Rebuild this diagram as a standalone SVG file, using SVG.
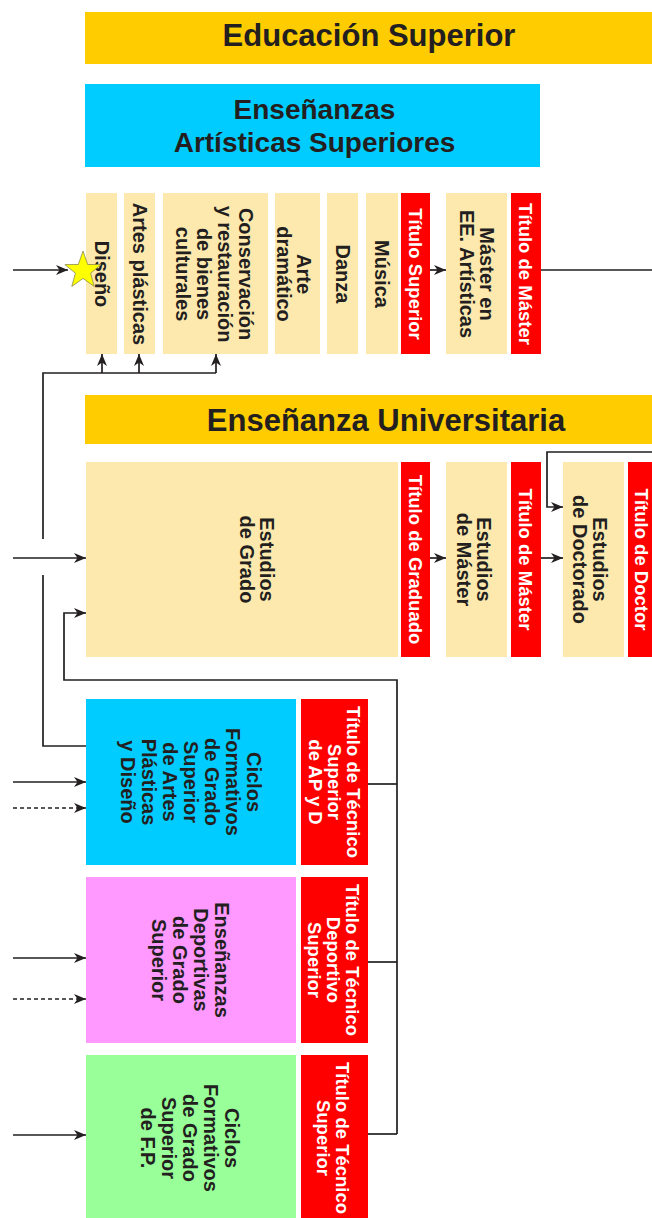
<svg xmlns="http://www.w3.org/2000/svg" width="652" height="1218" viewBox="0 0 652 1218">
<defs>
<marker id="ah" markerUnits="userSpaceOnUse" markerWidth="14" markerHeight="12" refX="12" refY="6" orient="auto">
<path d="M0,1 L12,6 L0,11 L3.5,6 Z" fill="#231f20"/>
</marker>
<style>
.bar{fill:#ffcc00}
.beige{fill:#fde9ae}
.red{fill:#ff0000}
.cyan{fill:#00ccff}
.pink{fill:#ff99ff}
.green{fill:#99ff99}
text{font-family:"Liberation Sans",Arial,sans-serif;font-weight:bold;text-anchor:middle}
.h{font-size:31px;fill:#231f20}
.h2{font-size:28px;fill:#231f20}
.t{font-size:20px;fill:#231f20}
.w{font-size:18.5px;fill:#ffffff}
.ln{fill:none;stroke:#231f20;stroke-width:1.7}
.ar{fill:none;stroke:#231f20;stroke-width:1.7;marker-end:url(#ah)}
.dash{stroke-dasharray:4,3}
</style>
</defs>
<rect width="652" height="1218" fill="#ffffff"/>

<g id="educacion-superior">
<rect class="bar" x="85" y="12" width="570" height="52"/>
<text class="h" x="369" y="46">Educación Superior</text>
</g>

<g id="ensenanzas-artisticas">
<rect class="cyan" x="85" y="84" width="455" height="83"/>
<text class="h2" x="314.5" y="119">Enseñanzas</text>
<text class="h2" x="314.5" y="152">Artísticas Superiores</text>
</g>

<g id="diseno">
<rect class="beige" x="86" y="193" width="31" height="161"/>
<text class="t" transform="translate(101.5,274) rotate(90)" y="7">Diseño</text>
</g>
<g id="artes-plasticas">
<rect class="beige" x="124" y="193" width="31" height="161"/>
<text class="t" transform="translate(139.5,274) rotate(90)" y="7">Artes plásticas</text>
</g>
<g id="conservacion">
<rect class="beige" x="163" y="193" width="105" height="161"/>
<text class="t" transform="translate(214,274) rotate(90)"><tspan x="0" y="-24.5">Conservación</tspan><tspan x="0" y="-3.5">y restauración</tspan><tspan x="0" y="17.5">de bienes</tspan><tspan x="0" y="38.5">culturales</tspan></text>
</g>
<g id="arte-dramatico">
<rect class="beige" x="275" y="193" width="45" height="161"/>
<text class="t" transform="translate(294,274) rotate(90)"><tspan x="0" y="-3">Arte</tspan><tspan x="0" y="17">dramático</tspan></text>
</g>
<g id="danza">
<rect class="beige" x="327" y="193" width="31" height="161"/>
<text class="t" transform="translate(342.5,274) rotate(90)" y="7">Danza</text>
</g>
<g id="musica">
<rect class="beige" x="366" y="193" width="32" height="161"/>
<text class="t" transform="translate(382,274) rotate(90)" y="7">Música</text>
</g>
<g id="titulo-superior">
<rect class="red" x="401" y="193" width="29" height="161"/>
<text class="w" transform="translate(415.5,274) rotate(90)" y="6.6">Título Superior</text>
</g>
<g id="master-ee-artisticas">
<rect class="beige" x="446" y="193" width="61" height="161"/>
<text class="t" transform="translate(477,274) rotate(90)"><tspan x="0" y="-3">Máster en</tspan><tspan x="0" y="17">EE. Artísticas</tspan></text>
</g>
<g id="titulo-master-1">
<rect class="red" x="511" y="193" width="30" height="161"/>
<text class="w" transform="translate(526,274) rotate(90)" y="6.6">Título de Máster</text>
</g>

<g id="ensenanza-universitaria">
<rect class="bar" x="85" y="395" width="570" height="49"/>
<text class="h" x="386" y="431">Enseñanza Universitaria</text>
</g>

<g id="estudios-grado">
<rect class="beige" x="86" y="462" width="312" height="195"/>
<text class="t" transform="translate(257,559.5) rotate(90)"><tspan x="0" y="-3">Estudios</tspan><tspan x="0" y="17">de Grado</tspan></text>
</g>
<g id="titulo-graduado">
<rect class="red" x="401" y="462" width="29" height="195"/>
<text class="w" transform="translate(415.5,559.5) rotate(90)" y="6.6">Título de Graduado</text>
</g>
<g id="estudios-master">
<rect class="beige" x="446" y="462" width="61" height="195"/>
<text class="t" transform="translate(474,559.5) rotate(90)"><tspan x="0" y="-3">Estudios</tspan><tspan x="0" y="17">de Máster</tspan></text>
</g>
<g id="titulo-master-2">
<rect class="red" x="511" y="462" width="30" height="195"/>
<text class="w" transform="translate(526,559.5) rotate(90)" y="6.6">Título de Máster</text>
</g>
<g id="estudios-doctorado">
<rect class="beige" x="563" y="462" width="61" height="195"/>
<text class="t" transform="translate(590,559.5) rotate(90)"><tspan x="0" y="-3">Estudios</tspan><tspan x="0" y="17">de Doctorado</tspan></text>
</g>
<g id="titulo-doctor">
<rect class="red" x="628" y="462" width="30" height="195"/>
<text class="w" transform="translate(642,559.5) rotate(90)" y="6.6">Título de Doctor</text>
</g>

<g id="cf-artes-plasticas">
<rect class="cyan" x="86" y="699" width="210" height="166"/>
<text class="t" transform="translate(191,782) rotate(90)"><tspan x="0" y="-56">Ciclos</tspan><tspan x="0" y="-35">Formativos</tspan><tspan x="0" y="-14">de Grado</tspan><tspan x="0" y="7">Superior</tspan><tspan x="0" y="28">de Artes</tspan><tspan x="0" y="49">Plásticas</tspan><tspan x="0" y="70">y Diseño</tspan></text>
</g>
<g id="titulo-tecnico-apd">
<rect class="red" x="301" y="699" width="67" height="166"/>
<text class="w" transform="translate(334.5,782) rotate(90)"><tspan x="0" y="-12.4">Título de Técnico</tspan><tspan x="0" y="6.6">Superior</tspan><tspan x="0" y="25.6">de AP y D</tspan></text>
</g>

<g id="ensenanzas-deportivas">
<rect class="pink" x="86" y="877" width="210" height="166"/>
<text class="t" transform="translate(190,960) rotate(90)"><tspan x="0" y="-24.5">Enseñanzas</tspan><tspan x="0" y="-3.5">Deportivas</tspan><tspan x="0" y="17.5">de Grado</tspan><tspan x="0" y="38.5">Superior</tspan></text>
</g>
<g id="titulo-tecnico-deportivo">
<rect class="red" x="301" y="877" width="67" height="166"/>
<text class="w" transform="translate(333.5,960) rotate(90)"><tspan x="0" y="-12.4">Título de Técnico</tspan><tspan x="0" y="6.6">Deportivo</tspan><tspan x="0" y="25.6">Superior</tspan></text>
</g>

<g id="cf-fp">
<rect class="green" x="86" y="1055" width="210" height="167"/>
<text class="t" transform="translate(190,1138) rotate(90)"><tspan x="0" y="-35">Ciclos</tspan><tspan x="0" y="-14">Formativos</tspan><tspan x="0" y="7">de Grado</tspan><tspan x="0" y="28">Superior</tspan><tspan x="0" y="49">de F.P.</tspan></text>
</g>
<g id="titulo-tecnico-superior">
<rect class="red" x="301" y="1055" width="67" height="167"/>
<text class="w" transform="translate(333.5,1138) rotate(90)"><tspan x="0" y="-2.9">Título de Técnico</tspan><tspan x="0" y="16.1">Superior</tspan></text>
</g>

<g id="connectors">
<path class="ar" d="M13,270 H68"/>
<path class="ar" d="M430,270 H446"/>
<path class="ln" d="M541,270 H652"/>
<path class="ln" d="M86,746 H43 V575"/>
<path class="ln" d="M43,539 V373 H216"/>
<path class="ar" d="M102,373 V354"/>
<path class="ar" d="M139,373 V354"/>
<path class="ar" d="M216,373 V354"/>
<path class="ar" d="M13,558 H86"/>
<path class="ar" d="M397,1134 V680 H64 V613 H86"/>
<path class="ln" d="M368,784 H397"/>
<path class="ln" d="M368,962 H397"/>
<path class="ln" d="M368,1134 H397"/>
<path class="ar" d="M430,558 H446"/>
<path class="ar" d="M541,558 H563"/>
<path class="ar" d="M652,452 H547 V507 H563"/>
<path class="ar" d="M13,782 H86"/>
<path class="ar dash" d="M13,808 H86"/>
<path class="ar" d="M13,958 H86"/>
<path class="ar dash" d="M13,999 H86"/>
<path class="ar" d="M13,1135 H86"/>
</g>

<g id="star">
<polygon points="83,251 87.7,264.5 101.1,264.6 90.6,273.2 94.2,286.4 83,278.4 71.8,286.4 75.4,273.2 64.9,264.6 78.3,264.5" fill="#ffff00" stroke="#8a8a50" stroke-width="0.8"/>
</g>
</svg>
